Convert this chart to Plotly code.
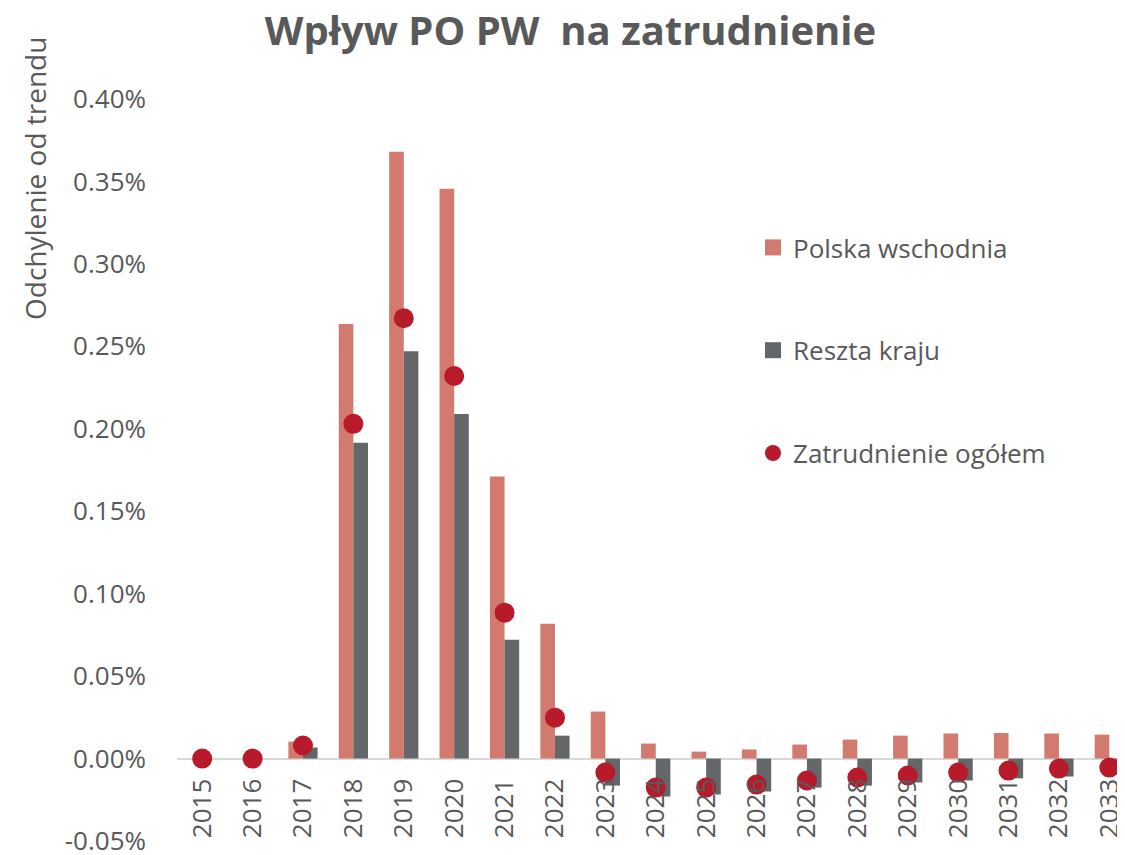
import plotly.graph_objects as go

years = [str(y) for y in range(2015, 2034)]
polska_wschodnia = [0.0, 0.0, 0.0103, 0.2636, 0.368, 0.3455, 0.171, 0.0818, 0.0285,
                    0.0091, 0.0042, 0.0055, 0.0085, 0.0115, 0.0139, 0.0152, 0.0155, 0.0152, 0.0145]
reszta_kraju = [0.0, 0.0, 0.0067, 0.1915, 0.247, 0.209, 0.072, 0.0139, -0.0164,
                -0.023, -0.0218, -0.020, -0.0176, -0.0164, -0.0145, -0.0133, -0.012, -0.0109, -0.0091]
zatrudnienie = [0.0, 0.0, 0.0079, 0.203, 0.267, 0.232, 0.0885, 0.0248, -0.0085,
                -0.0176, -0.0176, -0.0158, -0.0133, -0.0115, -0.0103, -0.0085, -0.0073, -0.0061, -0.0055]
y_tickvals = [-0.05, 0.0, 0.05, 0.10, 0.15, 0.20, 0.25, 0.30, 0.35, 0.40]
y_ticktext = ["-0.05%", "0.00%", "0.05%", "0.10%", "0.15%", "0.20%", "0.25%", "0.30%", "0.35%", "0.40%"]

TXT = "#595959"
FONT = "Open Sans, Calibri, sans-serif"
C_PW = "#D27A6D"
C_RK = "#63676A"
C_ZO = "#B71A2A"

fig = go.Figure()
fig.add_trace(go.Bar(x=years, y=polska_wschodnia, name="Polska wschodnia", showlegend=False,
                     marker=dict(color=C_PW, line=dict(width=0)), legendgroup="a"))
fig.add_trace(go.Bar(x=years, y=reszta_kraju, name="Reszta kraju", showlegend=False,
                     marker=dict(color=C_RK, line=dict(width=0)), legendgroup="b"))
fig.add_trace(go.Scatter(x=years, y=zatrudnienie, name="Zatrudnienie ogółem", mode="markers",
                         showlegend=False,
                         marker=dict(color=C_ZO, size=20, line=dict(width=0)), legendgroup="c"))
# legend entries (larger square swatches like the original)
fig.add_trace(go.Scatter(x=[None], y=[None], mode="markers", name="Polska wschodnia",
                         marker=dict(symbol="square", color=C_PW, size=16), legendgroup="a"))
fig.add_trace(go.Scatter(x=[None], y=[None], mode="markers", name="Reszta kraju",
                         marker=dict(symbol="square", color=C_RK, size=16), legendgroup="b"))
fig.add_trace(go.Scatter(x=[None], y=[None], mode="markers", name="Zatrudnienie ogółem",
                         marker=dict(symbol="circle", color=C_ZO, size=18), legendgroup="c"))

W, H = 1125, 855
L, R, T, B = 169, 0, 91, 22
pw = W - L - R
ph = H - T - B
ymin, ymax = -0.05, 0.40

fig.update_layout(
    width=W, height=H,
    margin=dict(l=L, r=R, t=T, b=B, pad=0, autoexpand=False),
    paper_bgcolor="white", plot_bgcolor="white",
    barmode="group", bargap=0.42, bargroupgap=0.0,
    font=dict(family=FONT, color=TXT, size=26),
    title=dict(text="<b>Wpływ PO PW\u00a0 na zatrudnienie</b>",
               x=0.5, xanchor="center", y=1 - 23 / H, yref="container", yanchor="middle",
               font=dict(family="Open Sans, Calibri, sans-serif", size=40, color=TXT)),
    showlegend=True,
    legend=dict(x=(745 - L) / pw, y=(H - B - 216) / ph, xanchor="left", yanchor="top",
                font=dict(size=26, color=TXT), tracegroupgap=66, bgcolor="rgba(0,0,0,0)",
                itemwidth=30, traceorder="grouped"),
    xaxis=dict(type="category", range=[-0.5, 18.47], showgrid=False, showline=False,
               zeroline=False, ticks="", tickangle=-90, automargin=False,
               anchor="free", position=(0 - ymin) / (ymax - ymin),
               ticklabelstandoff=14,
               tickfont=dict(size=26, color=TXT)),
    yaxis=dict(range=[ymin, ymax], tickvals=y_tickvals, ticktext=y_ticktext, automargin=False,
               showgrid=False, showline=False, zeroline=True, zerolinecolor="#D9D9D9",
               zerolinewidth=2, ticks="", ticklabelstandoff=30,
               tickfont=dict(size=26, color=TXT)),
    annotations=[dict(text="Odchylenie od trendu", textangle=-90, xref="paper", yref="paper",
                      x=(27 - L) / pw, y=(H - B - 171) / ph, xanchor="center", yanchor="middle",
                      showarrow=False, font=dict(size=28, color=TXT))],
)

fig.write_html("out.html")
